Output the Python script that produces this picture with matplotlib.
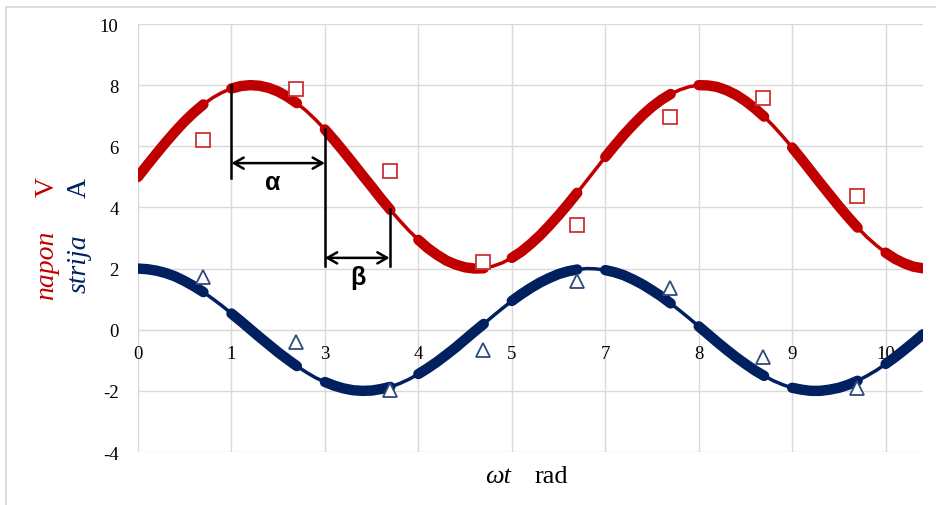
import numpy as np
import matplotlib
matplotlib.use('Agg')
import matplotlib.pyplot as plt

# curves, one value every 0.13 rad (gridline step 1.3 / 10)
wt_step = 0.13
napon = [5.00, 5.39, 5.77, 6.14, 6.49, 6.82, 7.11, 7.37, 7.59, 7.76, 7.89, 7.97, 8.00, 7.98, 7.91,
         7.79, 7.62, 7.41, 7.16, 6.87, 6.55, 6.20, 5.83, 5.45, 5.06, 4.68, 4.29, 3.92, 3.57, 3.24,
         2.94, 2.67, 2.45, 2.26, 2.13, 2.04, 2.00, 2.01, 2.08, 2.19, 2.35, 2.55, 2.80, 3.08, 3.40,
         3.74, 4.10, 4.48, 4.87, 5.26, 5.65, 6.02, 6.38, 6.71, 7.02, 7.29, 7.52, 7.71, 7.85, 7.95,
         8.00, 7.99, 7.94, 7.83, 7.68, 7.48, 7.24, 6.97, 6.66, 6.32, 5.96, 5.58, 5.19, 4.80, 4.42,
         4.04, 3.68, 3.34, 3.03, 2.76, 2.52, 2.32, 2.17, 2.06, 2.01]
struja = [2.00, 1.98, 1.93, 1.85, 1.74, 1.59, 1.42, 1.23, 1.01, 0.78, 0.53, 0.28, 0.02, -0.24, -0.49,
          -0.74, -0.97, -1.19, -1.39, -1.57, -1.71, -1.83, -1.92, -1.98, -2.00, -1.99, -1.94, -1.87,
          -1.76, -1.62, -1.45, -1.26, -1.05, -0.82, -0.58, -0.32, -0.06, 0.19, 0.45, 0.70, 0.94,
          1.16, 1.36, 1.54, 1.69, 1.82, 1.91, 1.97, 2.00, 1.99, 1.95, 1.88, 1.78, 1.64, 1.48, 1.29,
          1.09, 0.86, 0.62, 0.37, 0.11, -0.15, -0.41, -0.66, -0.90, -1.12, -1.33, -1.51, -1.67,
          -1.80, -1.90, -1.96, -2.00, -2.00, -1.96, -1.90, -1.80, -1.67, -1.51, -1.33, -1.12,
          -0.90, -0.66, -0.41, -0.15]

# measured points
marker_wt = [0.9, 2.2, 3.5, 4.8, 6.1, 7.4, 8.7, 10.0]
napon_mjereno = [6.2, 7.87, 5.2, 2.23, 3.41, 6.95, 7.57, 4.36]
struja_mjereno = [1.74, -0.39, -1.97, -0.66, 1.6, 1.38, -0.89, -1.9]

xtick_pos = [0, 1.3, 2.6, 3.9, 5.2, 6.5, 7.8, 9.1, 10.4]
xtick_labels = ['0', '1', '3', '4', '5', '7', '8', '9', '10']
ytick_pos = [-4, -2, 0, 2, 4, 6, 8, 10]

red = '#c00000'
navy = '#002060'

wt = np.arange(len(napon)) * wt_step
napon = np.array(napon)
struja = np.array(struja)

plt.rcParams['font.family'] = 'Liberation Serif'
plt.rcParams['axes.unicode_minus'] = False

W, H = 937, 506
fig = plt.figure(figsize=(W / 100, H / 100), dpi=100)
ax = fig.add_axes([138 / W, 1 - 453 / H, 785 / W, 428 / H])
ax.set_xlim(0, 10.92)
ax.set_ylim(-4, 10)
ax.set_xticks(xtick_pos, xtick_labels)
ax.set_yticks(ytick_pos)
ax.grid(True, color='#d9d9d9', lw=1.0)
ax.set_axisbelow(True)
for s in ['top', 'right', 'left']:
    ax.spines[s].set_visible(False)
ax.spines['bottom'].set_position(('data', 0))
ax.spines['bottom'].set_color('#d9d9d9')
ax.tick_params(length=0, labelsize=13.5)
ax.tick_params(axis='y', pad=14)
ax.tick_params(axis='x', pad=11)

# thin full curves + thick stretches (gridline -> next marker)
ax.plot(wt, napon, color=red, lw=2.5, zorder=3)
ax.plot(wt, struja, color=navy, lw=2.5, zorder=3)
for k in range(9):
    sl = slice(10 * k, 10 * k + 8)
    ax.plot(wt[sl], napon[sl], color=red, lw=7.5, solid_capstyle='round', zorder=3)
    ax.plot(wt[sl], struja[sl], color=navy, lw=7.5, solid_capstyle='round', zorder=3)

ax.plot(marker_wt, napon_mjereno, ls='none', marker='s', mfc='white', mec='#cc3333',
        ms=9.5, mew=1.3, zorder=5)
ax.plot(marker_wt, struja_mjereno, ls='none', marker='^', mfc='white', mec='#2e4a7d',
        ms=10, mew=1.3, zorder=5)

# alpha / beta markings
ax.plot([1.3, 1.3], [8.0, 4.95], color='black', lw=1.8, zorder=6)
ax.plot([2.6, 2.6], [6.55, 2.1], color='black', lw=1.8, zorder=6)
ax.plot([3.5, 3.5], [3.95, 2.1], color='black', lw=1.8, zorder=6)
ax.annotate('', xy=(1.3, 5.45), xytext=(2.6, 5.45),
            arrowprops=dict(arrowstyle='<->,head_length=0.7,head_width=0.4', lw=1.8, color='black',
                            shrinkA=0, shrinkB=0), zorder=6)
ax.annotate('', xy=(2.6, 2.35), xytext=(3.5, 2.35),
            arrowprops=dict(arrowstyle='<->,head_length=0.7,head_width=0.4', lw=1.8, color='black',
                            shrinkA=0, shrinkB=0), zorder=6)
ax.text(1.88, 4.84, 'α', fontsize=18, fontweight='bold', family='Liberation Sans',
        ha='center', va='center', zorder=6)
ax.text(3.06, 1.73, 'β', fontsize=18, fontweight='bold', family='Liberation Sans',
        ha='center', va='center', zorder=6)

# axis titles
fig.text(47 / W, 1 - 265.5 / H, 'napon', color=red, style='italic', fontsize=20,
         rotation=90, ha='center', va='center')
fig.text(47 / W, 1 - 187.5 / H, 'V', color=red, fontsize=20,
         rotation=90, ha='center', va='center')
fig.text(79 / W, 1 - 264 / H, 'strija', color=navy, style='italic', fontsize=20,
         rotation=90, ha='center', va='center')
fig.text(79 / W, 1 - 188 / H, 'A', color=navy, fontsize=20,
         rotation=90, ha='center', va='center')
fig.text(498 / W, 1 - 483 / H, 'ωt', style='italic', fontsize=19, ha='center', va='baseline')
fig.text(551 / W, 1 - 483 / H, 'rad', fontsize=19, ha='center', va='baseline')

# chart frame
fig.add_artist(plt.Line2D([6 / W, 6 / W], [0, 1 - 8 / H], color='#d9d9d9', lw=1.2))
fig.add_artist(plt.Line2D([6 / W, 1], [1 - 8 / H, 1 - 8 / H], color='#d9d9d9', lw=1.2))

fig.savefig('out.png', dpi=100)
